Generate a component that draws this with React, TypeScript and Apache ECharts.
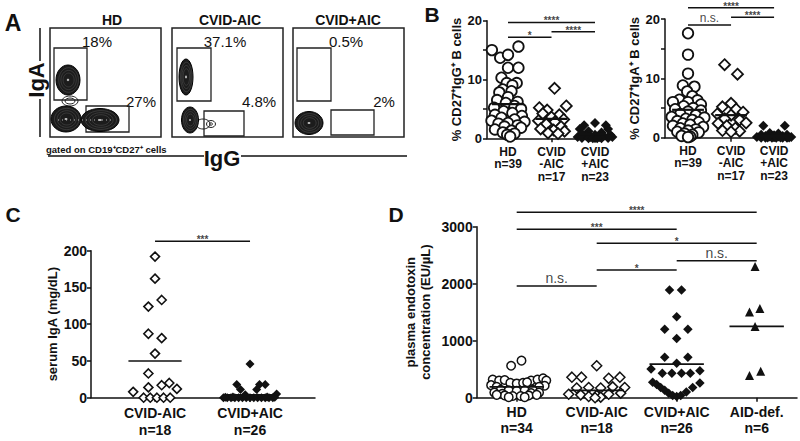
import React, { useEffect, useRef } from "react";
import * as echarts from "echarts";

const FONT = '"Liberation Sans", Arial, Helvetica, sans-serif';
const INK = "#111";

// ---------- Panel A (flow plots) ----------
const aTitles = ["HD", "CVID-AIC", "CVID+AIC"];
const aIgAPct = ["18%", "37.1%", "0.5%"];
const aIgGPct = ["27%", "4.8%", "2%"];

// ---------- Panel B ----------
const bCategories = ["HD\nn=39", "CVID\n-AIC\nn=17", "CVID\n+AIC\nn=23"];
// [x-jitter, value]
const bIgG_HD = [
  [-0.37, 15.0], [-0.18, 13.7], [0.0, 14.2], [0.24, 15.6], [0.0, 12.0], [0.24, 12.0], [-0.15, 10.3],
  [-0.03, 9.4], [0.2, 9.4], [0.1, 9.0], [-0.12, 8.3], [0.08, 8.0], [-0.2, 7.8], [0.0, 7.0],
  [-0.25, 6.5], [0.22, 6.2], [-0.05, 6.0], [0.15, 5.5], [-0.32, 5.2], [0.3, 5.0], [-0.1, 4.6],
  [0.1, 4.3], [-0.3, 4.0], [0.32, 3.8], [-0.15, 3.5], [0.15, 3.2], [-0.38, 3.0], [0.38, 2.8],
  [0.0, 2.6], [-0.22, 2.5], [0.22, 2.2], [-0.08, 2.0], [0.3, 1.8], [-0.3, 1.5], [0.08, 1.3],
  [-0.12, 1.0], [0.15, 0.8], [-0.02, 0.6], [0.05, 0.3],
];
const bIgG_CVIDminus = [
  [0.07, 8.5], [-0.28, 5.2], [-0.1, 4.8], [0.34, 5.5], [-0.2, 4.2], [0.18, 4.0], [0.0, 3.6],
  [-0.3, 3.0], [0.28, 3.2], [0.08, 2.8], [-0.12, 2.4], [0.22, 2.0], [-0.25, 1.6], [0.05, 1.4],
  [0.3, 1.2], [-0.08, 0.9], [0.15, 0.8],
];
const bIgG_CVIDplus = [
  [0.0, 2.6], [-0.25, 2.2], [0.25, 2.2], [-0.35, 1.6], [0.3, 1.6], [-0.15, 1.2], [0.15, 1.0],
  [-0.3, 0.8], [0.35, 0.6], [0.0, 0.6], [-0.2, 0.4], [0.2, 0.4], [-0.4, 0.2], [0.4, 0.2],
  [-0.1, 0.2], [0.1, 0.2], [-0.3, 0.05], [0.3, 0.05], [0.0, 0.05], [-0.15, 0.0], [0.15, 0.0],
  [-0.05, 0.0], [0.05, 0.0],
];
const bIgG_means = [5.8, 3.3, 0.7];
const bIgG_sig: [number, number, number, string][] = [
  [0, 2, 19.7, "****"], [1, 2, 18.1, "****"], [0, 1, 17.2, "*"],
];

const bIgA_HD = [
  [0.0, 17.6], [0.0, 14.0], [0.0, 10.8], [-0.12, 8.8], [0.15, 8.6], [-0.02, 7.8], [0.1, 7.0],
  [-0.2, 6.4], [0.22, 6.3], [-0.35, 6.0], [0.0, 6.0], [0.3, 5.6], [-0.1, 5.3], [0.12, 5.0],
  [-0.3, 4.8], [0.3, 4.6], [0.0, 4.4], [-0.18, 4.0], [0.18, 3.8], [-0.38, 3.5], [0.38, 3.4],
  [-0.05, 3.2], [0.1, 3.0], [-0.25, 2.8], [0.25, 2.6], [-0.12, 2.4], [0.05, 2.2], [-0.35, 2.0],
  [0.35, 1.8], [-0.18, 1.6], [0.18, 1.4], [0.0, 1.2], [-0.25, 1.0], [0.25, 0.9], [-0.08, 0.7],
  [0.1, 0.5], [-0.15, 0.3], [0.05, 0.2], [0.0, 0.1],
];
const bIgA_CVIDminus = [
  [-0.15, 12.3], [0.15, 10.7], [0.0, 5.8], [-0.2, 5.2], [0.12, 4.8], [0.28, 4.3], [-0.32, 4.0],
  [0.0, 3.8], [-0.15, 3.2], [0.2, 3.0], [0.35, 2.5], [-0.3, 2.4], [-0.1, 2.0], [0.1, 1.6],
  [-0.2, 1.2], [0.2, 1.1], [0.0, 1.0],
];
const bIgA_CVIDplus = [
  [-0.25, 2.0], [0.25, 2.0], [-0.1, 0.8], [0.1, 0.7], [-0.3, 0.5], [0.3, 0.5], [0.0, 0.4],
  [-0.2, 0.3], [0.2, 0.3], [-0.4, 0.1], [0.4, 0.1], [-0.1, 0.2], [0.1, 0.2], [-0.3, 0.0],
  [0.3, 0.0], [0.0, 0.1], [-0.2, 0.0], [0.2, 0.0], [-0.05, 0.0], [0.05, 0.0], [0.15, 0.05],
  [-0.15, 0.05], [0.35, 0.05],
];
const bIgA_means = [4.7, 3.8, 0.3];
const bIgA_sig: [number, number, number, string][] = [
  [0, 2, 21.9, "****"], [1, 2, 20.3, "****"], [0, 1, 19.0, "n.s."],
];

// ---------- Panel C ----------
const cCategories = ["CVID-AIC\nn=18", "CVID+AIC\nn=26"];
const cCVIDminus = [
  [0.0, 192], [0.0, 162], [0.07, 133], [-0.07, 124], [-0.07, 87], [0.07, 81], [0.0, 60],
  [-0.07, 33], [-0.23, 8], [-0.07, 14], [0.07, 17], [0.15, 20], [0.23, 12],
  [-0.12, 0], [-0.05, 0], [0.02, 0], [0.09, 0], [0.16, 0],
];
const cCVIDplus = [
  [0.0, 46], [-0.14, 18], [0.1, 18], [0.16, 18], [-0.1, 11], [0.07, 11], [0.28, 5], [-0.05, 4],
  [-0.28, 0], [-0.24, 0], [-0.2, 0], [-0.16, 0], [-0.12, 0], [-0.08, 0], [-0.04, 0], [0.0, 0],
  [0.04, 0], [0.08, 0], [0.12, 0], [0.16, 0], [0.2, 0], [0.24, 0], [-0.26, 0.5], [0.26, 0.5],
  [-0.18, 1], [0.18, 1],
];
const cMeans = [50, 4];
const cSig: [number, number, number, string][] = [[0, 1, 213, "***"]];

// ---------- Panel D ----------
const dCategories = ["HD\nn=34", "CVID-AIC\nn=18", "CVID+AIC\nn=26", "AID-def.\nn=6"];
const dHD = [
  [-0.07, 560], [0.06, 650],
  [-0.3, 320], [-0.22, 300], [-0.15, 310], [0.18, 300], [0.26, 320], [0.33, 340], [0.37, 300],
  [-0.08, 260], [0.0, 250], [0.08, 260], [0.13, 270],
  [-0.32, 220], [0.35, 210], [-0.25, 190], [0.28, 190],
  [-0.2, 140], [-0.1, 130], [0.0, 120], [0.1, 130], [0.2, 140],
  [-0.28, 90], [-0.18, 70], [0.18, 80], [0.28, 90],
  [-0.15, 40], [-0.05, 30], [0.05, 30], [0.15, 40], [-0.25, 50], [0.25, 50], [-0.1, 10], [0.1, 10],
];
const dCVIDminus = [
  [0.0, 560], [-0.31, 360], [-0.19, 360], [0.15, 340], [0.29, 360],
  [-0.25, 170], [-0.1, 180], [0.05, 170], [0.2, 190], [0.35, 180],
  [-0.35, 60], [-0.2, 50], [0.0, 40], [0.15, 60], [0.3, 80],
  [-0.1, 20], [0.05, 10], [-0.02, 0],
];
const dCVIDplus = [
  [-0.09, 1890], [0.06, 1890], [0.0, 1420], [-0.15, 1200], [0.14, 1200], [0.0, 1040],
  [-0.15, 710], [0.14, 710], [0.0, 605], [-0.32, 505], [0.29, 475],
  [-0.18, 430], [-0.06, 430], [0.06, 430], [0.17, 430], [-0.3, 270], [0.29, 260],
  [-0.25, 230], [-0.2, 180], [-0.15, 130], [-0.1, 80], [-0.05, 40], [0.0, 20], [0.05, 40],
  [0.12, 100], [0.2, 180],
];
const dAID = [[-0.02, 2300], [-0.09, 1505], [0.04, 1565], [-0.02, 1250], [-0.09, 390], [0.05, 465]];
const dMeans = [190, 130, 590, 1250];
const dSig: [number, number, number, string][] = [
  [0, 3, 3253, "****"], [0, 2, 2954, "***"], [1, 3, 2709, "*"],
  [2, 3, 2404, "n.s."], [1, 2, 2240, "*"], [0, 1, 1960, "n.s."],
];

// ---------- helpers ----------
function points(grid: number, idx: number, pairs: number[][], symbol: string, size: number, filled: boolean, bw = 1.8) {
  return {
    type: "scatter", xAxisIndex: grid, yAxisIndex: grid, symbol, symbolSize: size,
    itemStyle: { color: filled ? INK : "#fff", borderColor: INK, borderWidth: filled ? 0 : bw, opacity: 1 },
    data: pairs.map(([o, v]) => [idx + o, v]), clip: false, silent: true, z: 3,
  };
}
function means(grid: number, ms: number[], hw: number, width: number) {
  return ms.map((m, i) => ({
    type: "line", xAxisIndex: grid, yAxisIndex: grid, data: [[i - hw, m], [i + hw, m]],
    symbol: "none", lineStyle: { color: INK, width }, clip: false, silent: true, z: 5,
  }));
}
function sig(grid: number, bars: [number, number, number, string][], starSize: number, nsSize: number) {
  const lines = bars.map(([a, b, y]) => ({
    type: "line", xAxisIndex: grid, yAxisIndex: grid, data: [[a, y], [b, y]],
    symbol: "none", lineStyle: { color: INK, width: 1.5 }, clip: false, silent: true, z: 4,
  }));
  const labels = {
    type: "scatter", xAxisIndex: grid, yAxisIndex: grid, symbolSize: 1,
    itemStyle: { color: "rgba(0,0,0,0)" }, clip: false, silent: true, z: 4,
    data: bars.map(([a, b, y, t]) => ({
      value: [(a + b) / 2, y],
      label: {
        show: true, formatter: t, position: "top", distance: t === "n.s." ? 0 : -4,
        fontSize: t === "n.s." ? nsSize : starSize, fontWeight: t === "n.s." ? "normal" : "bold",
        color: INK, fontFamily: FONT,
      },
    })),
  };
  return [...lines, labels];
}
function xAxis(grid: number, min: number, max: number, cats: string[], fontSize: number, lineHeight: number, margin: number) {
  const vals = cats.map((_, i) => i);
  return {
    type: "value", gridIndex: grid, min, max,
    axisLine: { show: true, onZero: false, lineStyle: { color: INK, width: 1.5 } },
    axisTick: { show: true, customValues: vals, length: 4, lineStyle: { color: INK, width: 1.5 } },
    axisLabel: {
      customValues: vals, formatter: (v: number) => cats[Math.round(v)] ?? "",
      fontSize, lineHeight, fontWeight: "bold", color: INK, margin, fontFamily: FONT,
    },
    splitLine: { show: false },
  };
}
function yAxis(grid: number, max: number, interval: number, labelEvery: number, fontSize: number, name: string, nameGap: number, nameSize: number, margin: number) {
  return {
    type: "value", gridIndex: grid, min: 0, max, interval,
    axisLine: { show: true, onZero: false, lineStyle: { color: INK, width: 1.5 } },
    axisTick: { show: true, length: 4, lineStyle: { color: INK, width: 1.5 } },
    axisLabel: {
      formatter: (v: number) => (v % labelEvery === 0 ? String(v) : ""),
      fontSize, fontWeight: "bold", color: INK, margin, fontFamily: FONT,
    },
    splitLine: { show: false },
    name, nameLocation: "middle", nameGap,
    nameTextStyle: { fontSize: nameSize, fontWeight: "bold", color: INK, fontFamily: FONT, lineHeight: 15 },
  };
}
function txt(x: number, y: number, text: string, size: number, weight = "bold", align = "center", rotation = 0) {
  return {
    type: "text", x, y, rotation, silent: true,
    style: {
      text, x: 0, y: 0, fill: INK, fontSize: size, fontWeight: weight, fontFamily: FONT,
      align, verticalAlign: "middle", textAlign: align, textVerticalAlign: "middle",
    },
  };
}
function rect(x: number, y: number, w: number, h: number, lw = 1.3) {
  return { type: "rect", silent: true, shape: { x, y, width: w, height: h }, style: { fill: "none", stroke: "#222", lineWidth: lw } };
}
function blob(cx: number, cy: number, rx: number, ry: number) {
  const out: any[] = [
    { type: "ellipse", silent: true, shape: { cx, cy, rx, ry }, style: { fill: "#1c1c1c", stroke: "#000", lineWidth: 1 } },
  ];
  [0.82, 0.64, 0.46].forEach((k) =>
    out.push({ type: "ellipse", silent: true, shape: { cx: cx + rx * 0.05, cy, rx: rx * k, ry: ry * k }, style: { fill: "none", stroke: "#555", lineWidth: 0.5 } })
  );
  out.push({ type: "ellipse", silent: true, shape: { cx, cy, rx: Math.max(1, rx * 0.1), ry: Math.max(1, ry * 0.08) }, style: { fill: "#bbb" } });
  return out;
}
function ring(cx: number, cy: number, rx: number, ry: number, lw = 1) {
  return { type: "ellipse", silent: true, shape: { cx, cy, rx, ry }, style: { fill: "none", stroke: "#222", lineWidth: lw } };
}

function panelA() {
  const boxX = [50, 172, 293];
  const titleX = [112, 230, 348];
  const igaX = [97, 225, 346];
  const iggX = [141, 259, 384];
  const g: any[] = [];
  boxX.forEach((bx, i) => {
    g.push(rect(bx, 28, 111, 109, 1.5));
    g.push(txt(titleX[i], 20, aTitles[i], 14));
    g.push(txt(igaX[i], 41, aIgAPct[i], 15, "normal"));
    g.push(txt(iggX[i], 101, aIgGPct[i], 15, "normal"));
  });
  // gates
  g.push(rect(54, 48, 33, 52), rect(86, 106, 43, 26));
  g.push(rect(177, 48, 34, 53), rect(204, 111, 40, 25));
  g.push(rect(297, 48, 34, 53), rect(331, 110, 43, 25));
  // HD contours
  g.push(ring(70, 101, 8, 5), ring(70, 101, 5, 3));
  g.push(...blob(68, 80, 12, 15));
  g.push(...blob(100, 120, 19, 11.5));
  g.push(...blob(66, 119, 15, 13));
  g.push({ type: "line", silent: true, shape: { x1: 58, y1: 120, x2: 114, y2: 120 }, style: { stroke: "#bbb", lineWidth: 1.2, lineDash: [1, 3] } });
  // CVID-AIC contours
  g.push(...blob(186, 77, 7, 18));
  g.push(ring(203, 124, 7, 5), ring(211, 124, 4.5, 3.5), ring(211, 124, 1.5, 1.2));
  g.push(...blob(190, 120, 8.5, 13));
  // CVID+AIC contours
  g.push(...blob(309, 123, 14, 11.5));
  // axes of panel A
  g.push({ type: "line", silent: true, shape: { x1: 40, y1: 28, x2: 40, y2: 61 }, style: { stroke: INK, lineWidth: 1.5 } });
  g.push({ type: "line", silent: true, shape: { x1: 40, y1: 99, x2: 40, y2: 137 }, style: { stroke: INK, lineWidth: 1.5 } });
  g.push(txt(36, 80, "IgA", 22, "bold", "center", Math.PI / 2));
  g.push({ type: "line", silent: true, shape: { x1: 48, y1: 156, x2: 204, y2: 156 }, style: { stroke: INK, lineWidth: 1.5 } });
  g.push({ type: "line", silent: true, shape: { x1: 241, y1: 156, x2: 407, y2: 156 }, style: { stroke: INK, lineWidth: 1.5 } });
  g.push(txt(222, 158, "IgG", 22));
  g.push(txt(46, 149, "gated on CD19⁺CD27⁺ cells", 9.5, "bold", "left"));
  // panel letters
  g.push(txt(13, 23, "A", 23, "bold"));
  g.push(txt(432, 14, "B", 21, "bold"));
  g.push(txt(13, 214, "C", 21, "bold"));
  g.push(txt(396, 214, "D", 21, "bold"));
  return g;
}

export default function App() {
  const ref = useRef<HTMLDivElement>(null);
  useEffect(() => {
    if (!ref.current) return;
    const chart = echarts.init(ref.current, null, { renderer: "svg" });
    const series: any[] = [
      // B left (IgG)
      points(0, 0, bIgG_HD, "circle", 10.5, false),
      points(0, 1, bIgG_CVIDminus, "diamond", 11, false),
      points(0, 2, bIgG_CVIDplus, "diamond", 10, true),
      ...means(0, bIgG_means, 0.37, 2.2),
      ...sig(0, bIgG_sig, 10, 12),
      // B right (IgA)
      points(1, 0, bIgA_HD, "circle", 10.5, false),
      points(1, 1, bIgA_CVIDminus, "diamond", 11, false),
      points(1, 2, bIgA_CVIDplus, "diamond", 10, true),
      ...means(1, bIgA_means, 0.37, 2.2),
      ...sig(1, bIgA_sig, 10, 12),
      // C
      points(2, 0, cCVIDminus, "diamond", 9, false, 1.6),
      points(2, 1, cCVIDplus, "diamond", 9, true),
      ...means(2, cMeans, 0.28, 1.6),
      ...sig(2, cSig, 10, 12),
      // D
      points(3, 0, dHD, "circle", 8.5, false, 1.5),
      points(3, 1, dCVIDminus, "diamond", 10, false, 1.5),
      points(3, 2, dCVIDplus, "diamond", 9.5, true),
      points(3, 3, dAID, "triangle", 9, true),
      ...means(3, dMeans, 0.34, 1.8),
      ...sig(3, dSig, 10, 14),
    ];
    chart.setOption({
      animation: false,
      backgroundColor: "#fff",
      textStyle: { fontFamily: FONT, color: INK },
      grid: [
        { left: 487, top: 20.7, width: 116, height: 117.6 },
        { left: 665, top: 19, width: 128, height: 118.7 },
        { left: 91, top: 250.7, width: 224, height: 147 },
        { left: 476.7, top: 226.7, width: 320.3, height: 171 },
      ],
      xAxis: [
        xAxis(0, -0.483, 2.184, bCategories, 12, 12.5, 7),
        xAxis(1, -0.535, 2.44, bCategories, 12, 12.5, 7),
        xAxis(2, -0.674, 1.684, cCategories, 14, 17, 7),
        xAxis(3, -0.5, 3.504, dCategories, 14, 16, 6),
      ],
      yAxis: [
        yAxis(0, 20, 5, 10, 13, "% CD27⁺IgG⁺ B cells", 22, 13, 5),
        yAxis(1, 20, 5, 10, 13, "% CD27⁺IgA⁺ B cells", 20, 13, 5),
        yAxis(2, 200, 50, 50, 14, "serum IgA (mg/dL)", 31, 13, 4),
        yAxis(3, 3000, 1000, 1000, 14, "plasma endotoxin\nconcentration (EU/µL)", 44, 13, 4),
      ],
      graphic: { elements: panelA() },
      series,
    });
    return () => chart.dispose();
  }, []);
  return <div ref={ref} style={{ position: "fixed", left: 0, top: 0, width: 800, height: 441, background: "#fff" }} />;
}
